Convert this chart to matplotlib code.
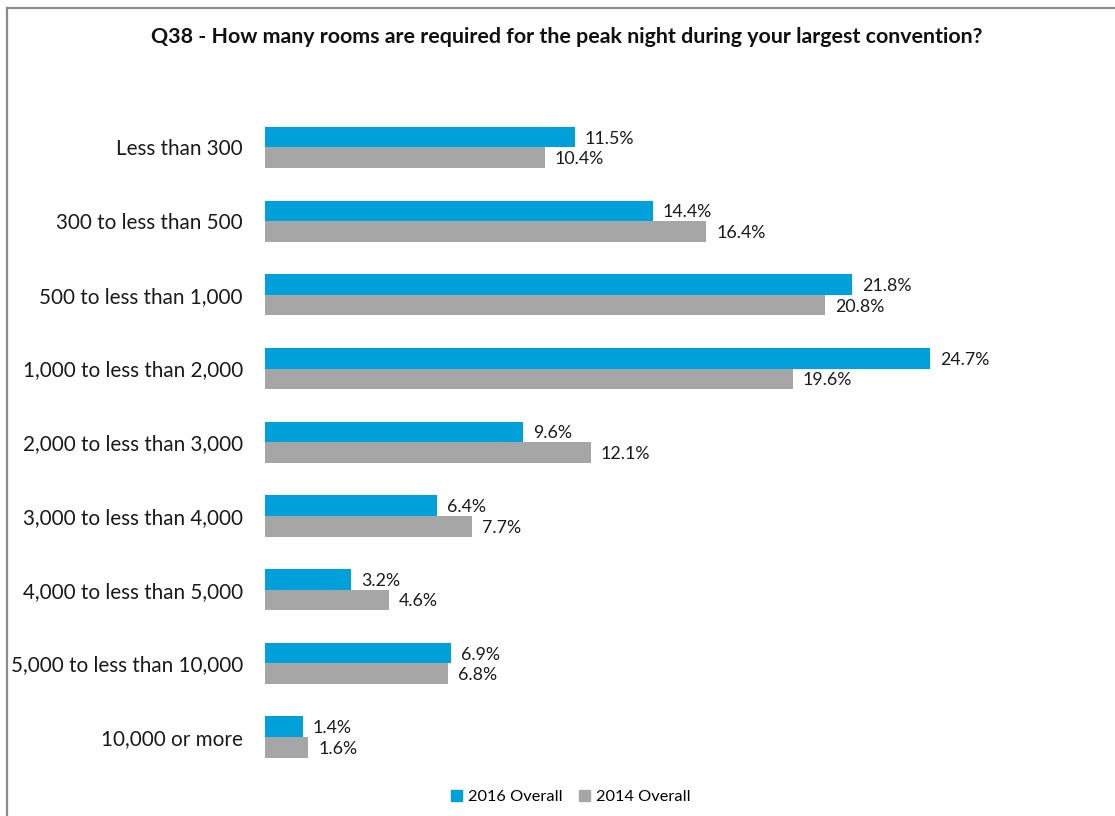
import matplotlib
matplotlib.use("Agg")
import matplotlib.pyplot as plt
from matplotlib.lines import Line2D
from matplotlib.patches import Patch
import numpy as np

plt.rcParams['font.family'] = ['Lato', 'DejaVu Sans']

categories = [
    "Less than 300",
    "300 to less than 500",
    "500 to less than 1,000",
    "1,000 to less than 2,000",
    "2,000 to less than 3,000",
    "3,000 to less than 4,000",
    "4,000 to less than 5,000",
    "5,000 to less than 10,000",
    "10,000 or more",
]
values_2016 = [11.5, 14.4, 21.8, 24.7, 9.6, 6.4, 3.2, 6.9, 1.4]
values_2014 = [10.4, 16.4, 20.8, 19.6, 12.1, 7.7, 4.6, 6.8, 1.6]
series_names = ["2016 Overall", "2014 Overall"]

BLUE = "#00A0DA"
GRAY = "#A6A6A6"

W, H = 1115, 816
fig = plt.figure(figsize=(W / 100, H / 100), dpi=100)

# plot area in pixel units
left_px, right_px = 265, 1065
top_px, bottom_px = 110.6, 773.9
px_per_unit = 26.92
ax = fig.add_axes([left_px / W, 1 - bottom_px / H,
                   (right_px - left_px) / W, (bottom_px - top_px) / H])

y = np.arange(len(categories))
bh = 0.28
ax.barh(y - bh / 2, values_2016, height=bh, color=BLUE, label=series_names[0])
ax.barh(y + bh / 2, values_2014, height=bh, color=GRAY, label=series_names[1])

ax.set_xlim(0, (right_px - left_px) / px_per_unit)
ax.set_ylim(len(categories) - 0.5, -0.5)

off = 10 / px_per_unit
for yi, v in zip(y, values_2016):
    ax.text(v + off, yi - bh / 2 + 0.02, f"{v:.1f}%", va="center", ha="left",
            fontsize=12.8, color="#1a1a1a")
for yi, v in zip(y, values_2014):
    ax.text(v + off, yi + bh / 2 + 0.02, f"{v:.1f}%", va="center", ha="left",
            fontsize=12.8, color="#1a1a1a")

ax.set_yticks(y)
ax.set_yticklabels(categories, fontsize=14.9, color="#1a1a1a")
ax.tick_params(axis="y", length=0, pad=16)
ax.set_xticks([])
for s in ax.spines.values():
    s.set_visible(False)

fig.text(567 / W, 1 - 37 / H,
         "Q38 - How many rooms are required for the peak night during your largest convention?",
         ha="center", va="center", fontsize=15.4, fontweight="bold", color="#111111")

handles = [Patch(color=BLUE), Patch(color=GRAY)]
fig.legend(handles, series_names, loc="center", ncol=2,
           bbox_to_anchor=(571 / W, 1 - 797 / H), frameon=False,
           fontsize=11.8, handlelength=0.65, handleheight=0.65,
           handletextpad=0.4, columnspacing=1.0)

# outer frame (top and left edges)
fig.add_artist(Line2D([7 / W, 1.0], [1 - 8 / H, 1 - 8 / H],
                      transform=fig.transFigure, color="#8c8c8c", lw=1.6))
fig.add_artist(Line2D([7 / W, 7 / W], [0.0, 1 - 8 / H],
                      transform=fig.transFigure, color="#8c8c8c", lw=1.6))

fig.savefig("out.png", dpi=100)
